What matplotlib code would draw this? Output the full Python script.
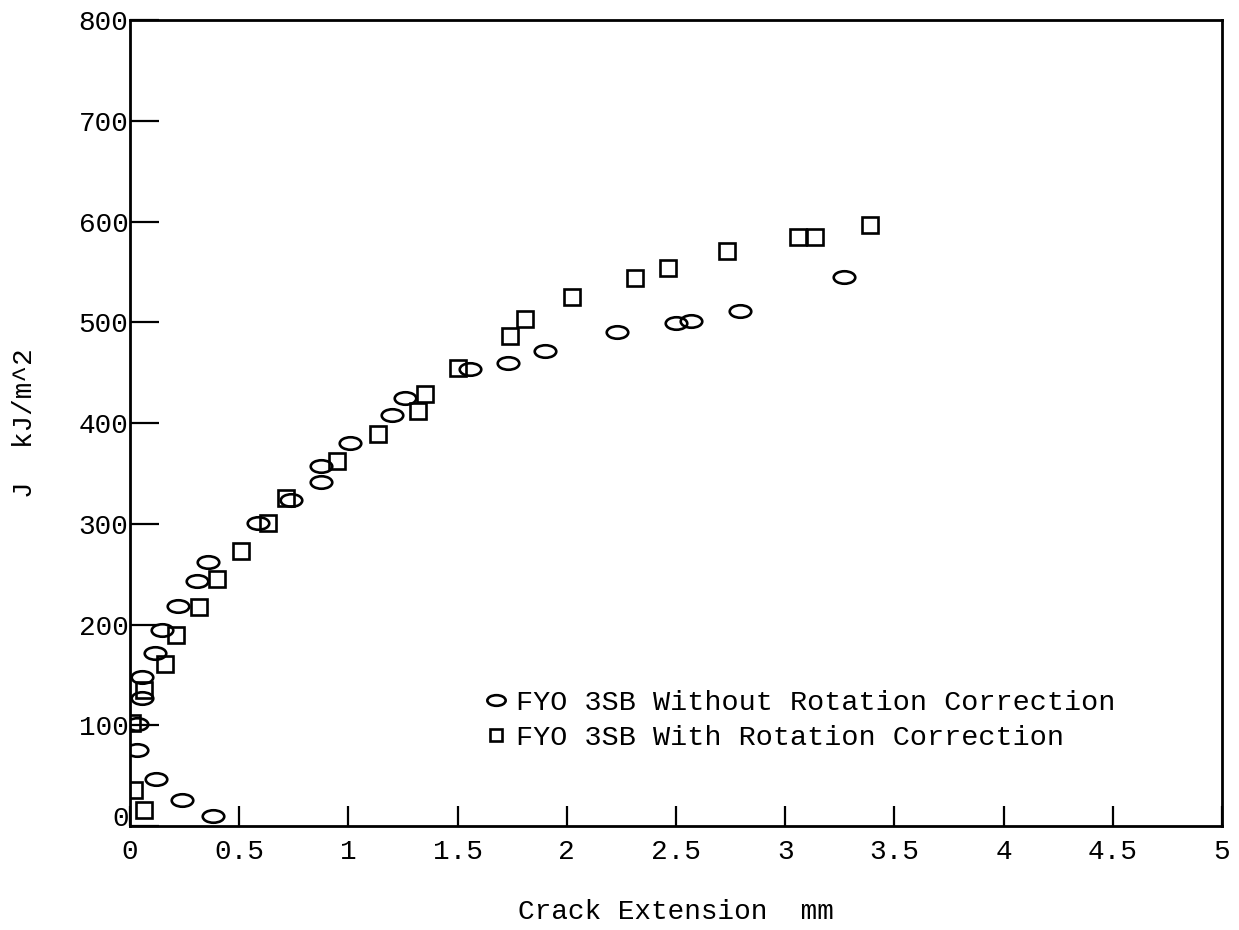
import numpy as np
import matplotlib
matplotlib.use("Agg")
import matplotlib.pyplot as plt
from matplotlib.path import Path
from matplotlib.transforms import Affine2D, ScaledTranslation

plt.rcParams['font.family'] = ['Liberation Mono', 'DejaVu Sans Mono']

# FYO 3SB without rotation correction (ellipses)
x_without = [0.38, 0.236, 0.118, 0.03, 0.03, 0.055, 0.055, 0.114, 0.145, 0.22,
             0.305, 0.357, 0.585, 0.736, 0.873, 0.873, 1.006, 1.20, 1.257, 1.555,
             1.73, 1.90, 2.23, 2.50, 2.57, 2.794, 3.27]
j_without = [10, 26, 47, 75, 101, 127, 148, 172, 195, 218,
             243, 262, 301, 324, 341, 357, 380, 408, 425, 454,
             460, 471, 490, 499, 501, 511, 545]

# FYO 3SB with rotation correction (squares)
x_with = [0.064, 0.018, 0.01, 0.064, 0.16, 0.209, 0.316, 0.40, 0.508, 0.63,
          0.713, 0.95, 1.134, 1.317, 1.353, 1.50, 1.742, 1.81, 2.026, 2.31,
          2.465, 2.734, 3.059, 3.137, 3.39]
j_with = [16, 36, 102, 135, 161, 190, 217, 245, 273, 301,
          326, 362, 389, 412, 429, 455, 486, 503, 525, 544,
          554, 571, 585, 585, 597]

xticks = [0, 0.5, 1, 1.5, 2, 2.5, 3, 3.5, 4, 4.5, 5]
xticklabels = ['0', '0.5', '1', '1.5', '2', '2.5', '3', '3.5', '4', '4.5', '5']
yticks = [0, 100, 200, 300, 400, 500, 600, 700, 800]

# flat ellipse marker
ellipse = Path.unit_circle().transformed(Affine2D().scale(1.0, 0.58))

fig = plt.figure(figsize=(12.39, 9.30), dpi=100)
ax = fig.add_axes([0.1049, 0.1118, 0.8814, 0.8667])

ax.plot(x_without, j_without, linestyle='none', marker=ellipse, markersize=15.5,
        markerfacecolor='none', markeredgecolor='black', markeredgewidth=1.9,
        label='FYO 3SB Without Rotation Correction')
ax.plot(x_with, j_with, linestyle='none', marker='s', markersize=11,
        markerfacecolor='none', markeredgecolor='black', markeredgewidth=1.9,
        label='FYO 3SB With Rotation Correction')

ax.set_xlim(0, 5)
ax.set_ylim(0, 800)
ax.set_xticks(xticks)
ax.set_xticklabels(xticklabels)
ax.set_yticks(yticks)

for s in ax.spines.values():
    s.set_linewidth(2.0)

ax.tick_params(axis='x', direction='in', length=14.5, width=1.6, labelsize=20, pad=9)
ax.tick_params(axis='y', direction='in', length=21, width=1.6, labelsize=20, pad=1)

# the y "0" label sits a little above the axis in the original
ylabs = ax.get_yticklabels()
ylabs[0].set_transform(ylabs[0].get_transform() +
                       ScaledTranslation(0, 7 / 72, fig.dpi_scale_trans))

ax.set_xlabel('Crack Extension  mm', fontsize=20, labelpad=25)
ax.set_ylabel('J  kJ/m^2', fontsize=20, labelpad=29)

ax.legend(loc='center left', bbox_to_anchor=(0.309, 0.131), frameon=False,
          fontsize=20.5, borderpad=0, handlelength=1.0, handletextpad=0.2,
          labelspacing=0.3, markerscale=0.85)

fig.savefig('out.png', dpi=100)
